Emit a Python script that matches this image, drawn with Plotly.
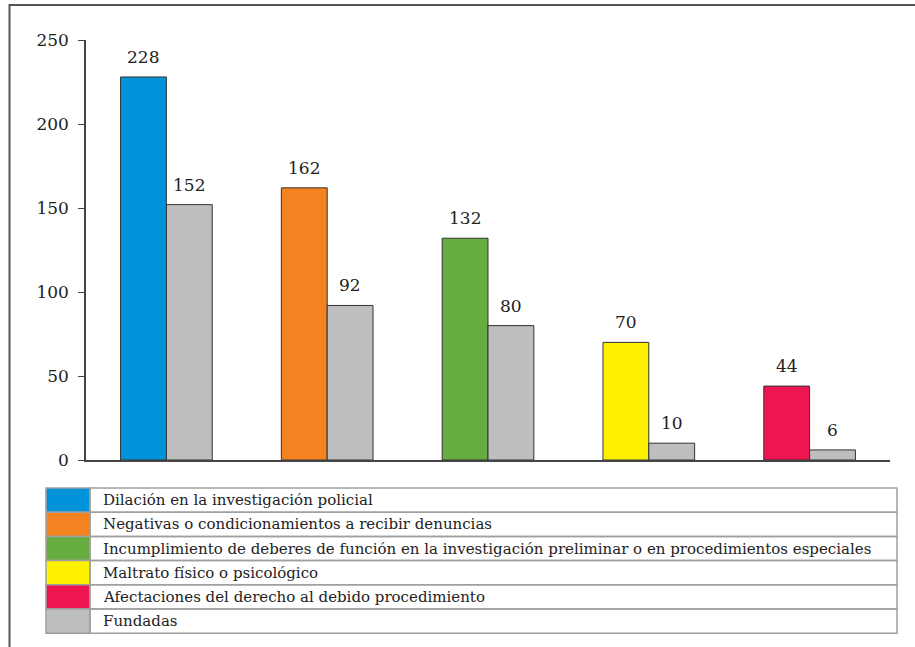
import plotly.graph_objects as go

categories = [
    "Dilación en la investigación policial",
    "Negativas o condicionamientos a recibir denuncias",
    "Incumplimiento de deberes de función en la investigación preliminar o en procedimientos especiales",
    "Maltrato físico o psicológico",
    "Afectaciones del derecho al debido procedimiento",
]
totals = [228, 162, 132, 70, 44]
fundadas = [152, 92, 80, 10, 6]
colors = ["#0093D9", "#F58220", "#66AC3F", "#FFF200", "#ED1651"]
fund_label = "Fundadas"
fund_color = "#BCBEC0"
yticks = [0, 50, 100, 150, 200, 250]

W, H = 915, 647
L, R, T, B = 86, 25, 40, 187
pw, ph = W - L - R, H - T - B

def px(x):
    return (x - L) / pw

def py(y):
    return (H - B - y) / ph

FONT = "DejaVu Serif"
TXT = "#222222"
BARGAP = 0.43
half = (1 - BARGAP) / 4  # half of one bar's width in data units
xs = list(range(len(categories)))

fig = go.Figure()
fig.add_bar(x=xs, y=totals, marker=dict(color=colors, line=dict(color="#333333", width=1)),
            showlegend=False, hoverinfo="y")
fig.add_bar(x=xs, y=fundadas, marker=dict(color=fund_color, line=dict(color="#333333", width=1)),
            showlegend=False, hoverinfo="y")

shapes = []
annotations = []
# value labels
for i in xs:
    annotations.append(dict(x=i - half, y=totals[i], xref="x", yref="y", text=str(totals[i]),
                            showarrow=False, yanchor="bottom", yshift=8,
                            font=dict(family=FONT, size=17, color=TXT)))
    annotations.append(dict(x=i + half, y=fundadas[i], xref="x", yref="y", text=str(fundadas[i]),
                            showarrow=False, yanchor="bottom", yshift=8,
                            font=dict(family=FONT, size=17, color=TXT)))

# outer frame
shapes.append(dict(type="rect", xref="paper", yref="paper", x0=px(9.5), x1=px(917), y0=py(5), y1=py(660),
                   line=dict(color="#555555", width=2), fillcolor="rgba(0,0,0,0)", layer="below"))

# legend table
lx0, lx1, lcol = 46, 897, 90
ly0, rowh = 488, 24.2
labels = categories + [fund_label]
lcolors = colors + [fund_color]
for i, (lab, c) in enumerate(zip(labels, lcolors)):
    y0 = ly0 + i * rowh
    y1 = y0 + rowh
    shapes.append(dict(type="rect", xref="paper", yref="paper", x0=px(lx0), x1=px(lcol), y0=py(y1), y1=py(y0),
                       fillcolor=c, line=dict(color="#A0A0A0", width=1.5)))
    shapes.append(dict(type="rect", xref="paper", yref="paper", x0=px(lcol), x1=px(lx1), y0=py(y1), y1=py(y0),
                       fillcolor="rgba(0,0,0,0)", line=dict(color="#A0A0A0", width=1.5)))
    annotations.append(dict(text=lab, xref="paper", yref="paper", x=px(101), y=py((y0 + y1) / 2),
                            xanchor="left", yanchor="middle", showarrow=False,
                            font=dict(family=FONT, size=15, color=TXT)))

fig.update_layout(
    width=W, height=H, margin=dict(l=L, r=R, t=T, b=B),
    paper_bgcolor="white", plot_bgcolor="white",
    barmode="group", bargap=BARGAP, bargroupgap=0,
    shapes=shapes, annotations=annotations,
    xaxis=dict(range=[-0.5, len(categories) - 0.5], showline=True, linecolor="#444444", linewidth=1.5,
               showticklabels=False, ticks="", showgrid=False, zeroline=False, fixedrange=True),
    yaxis=dict(range=[0, 250], tickvals=yticks, showline=True, linecolor="#444444", linewidth=1.5,
               ticks="outside", ticklen=6, tickcolor="#444444", showgrid=False, zeroline=False,
               tickfont=dict(family=FONT, size=17, color=TXT), ticklabelstandoff=6),
)

fig.write_html("out.html", config={"displayModeBar": False},
               post_script="document.body.style.margin='0';document.body.style.overflow='hidden';")
